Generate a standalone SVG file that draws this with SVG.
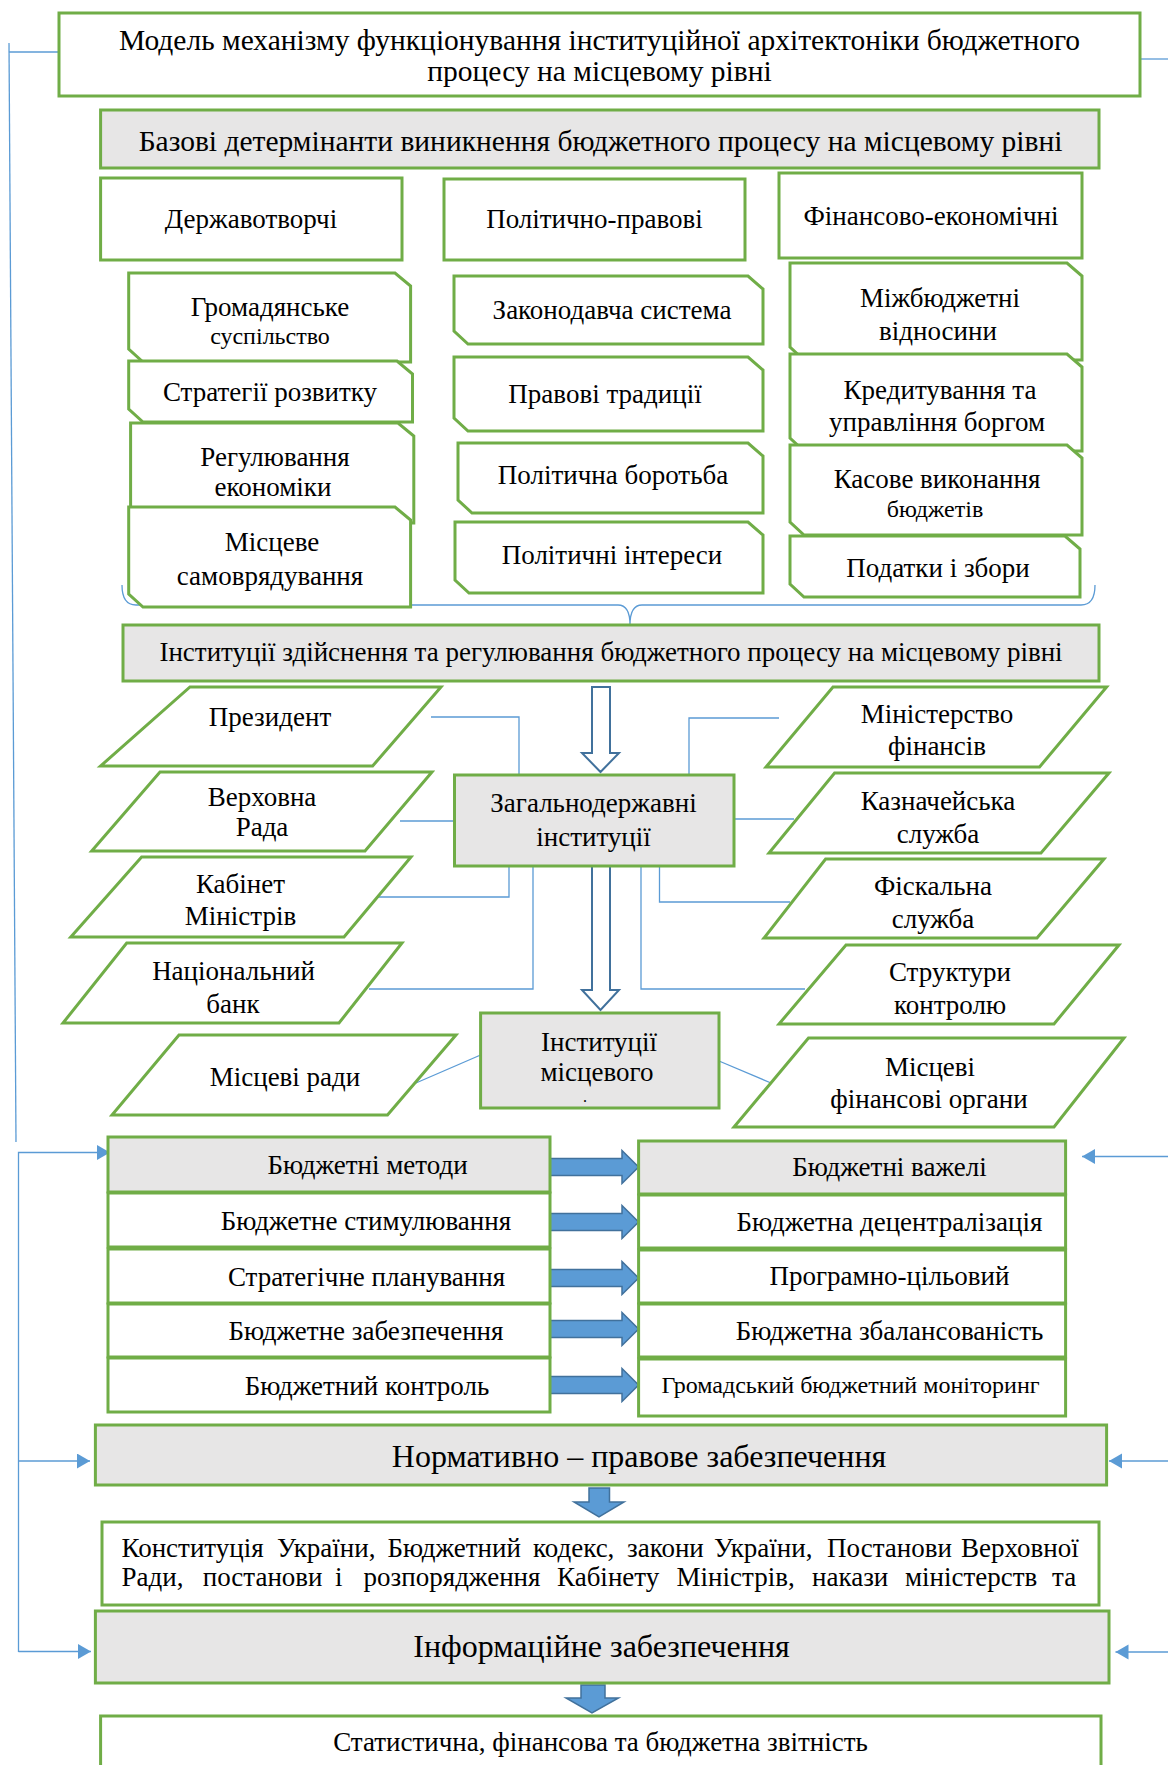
<svg xmlns="http://www.w3.org/2000/svg" width="1168" height="1765" viewBox="0 0 1168 1765">
<style>
.w{fill:#fff;stroke:#70ad47;stroke-width:3}
.gr{fill:#e7e6e6;stroke:#70ad47;stroke-width:3}
.t{font-family:"Liberation Serif","Times New Roman",serif;font-size:27px;fill:#000;text-anchor:middle}
.s{font-size:24px}
.m{font-size:24px}
.h{font-size:29.5px}
.b{font-size:32px}
.d{font-size:16px}
.c{fill:none;stroke:#5b9bd5;stroke-width:1.3}
.ha{fill:#fff;stroke:#41719c;stroke-width:2}
.ba{fill:#5b9bd5;stroke:#41719c;stroke-width:1.5}
.l{text-anchor:start}
</style>
<defs>
<marker id="ah" markerUnits="userSpaceOnUse" markerWidth="14" markerHeight="16" refX="13" refY="7.5" orient="auto">
<path d="M0,0 L13,7.5 L0,15 Z" fill="#5b9bd5"/>
</marker>
</defs>
<rect width="1168" height="1765" fill="#fff"/>

<g id="connectors">
<line class="c" x1="9" y1="43" x2="16" y2="1142"/>
<line class="c" x1="9" y1="52" x2="59" y2="52"/>
<line class="c" x1="1140" y1="59" x2="1168" y2="59"/>
<polyline class="c" points="18.5,1652 18.5,1152.5 110,1152.5" marker-end="url(#ah)"/>
<line class="c" x1="18.5" y1="1461" x2="90" y2="1461" marker-end="url(#ah)"/>
<line class="c" x1="18.5" y1="1651.5" x2="91" y2="1651.5" marker-end="url(#ah)"/>
<line class="c" x1="1168" y1="1156.5" x2="1082" y2="1156.5" marker-end="url(#ah)"/>
<line class="c" x1="1168" y1="1461" x2="1109" y2="1461" marker-end="url(#ah)"/>
<line class="c" x1="1168" y1="1652" x2="1115.5" y2="1652" marker-end="url(#ah)"/>
<path class="c" d="M122 585 Q122 605 136 605 H618 Q630 605 630 625 Q630 605 642 605 H1081 Q1095 605 1095 585"/>
<polyline class="c" points="431,717 519,717 519,774"/>
<line class="c" x1="400" y1="821" x2="454" y2="821"/>
<polyline class="c" points="376,897 509,897 509,866"/>
<polyline class="c" points="369,989 533,989 533,866"/>
<polyline class="c" points="779,718 689,718 689,774"/>
<line class="c" x1="734" y1="819" x2="794" y2="819"/>
<polyline class="c" points="790,902 659.5,902 659.5,866"/>
<polyline class="c" points="805,989 641,989 641,866"/>
<line class="c" x1="413.6" y1="1084" x2="480.6" y2="1055"/>
<line class="c" x1="719" y1="1061" x2="771" y2="1083"/>
<path class="ha" d="M592 687 H610 V753 H619 L600.5 772 L582 753 H592 Z"/>
<path class="ha" d="M592 866 H610 V990 H619 L600.5 1010 L582 990 H592 Z"/>
<path class="ba" d="M550 1158.5 H622 V1150.5 L638.6 1167 L622 1183.5 V1175.5 H550 Z"/>
<path class="ba" d="M550 1213.5 H622 V1205.5 L638.6 1222 L622 1238.5 V1230.5 H550 Z"/>
<path class="ba" d="M550 1269.5 H622 V1261.5 L638.6 1278 L622 1294.5 V1286.5 H550 Z"/>
<path class="ba" d="M550 1320.5 H622 V1312.5 L638.6 1329 L622 1345.5 V1337.5 H550 Z"/>
<path class="ba" d="M550 1376.5 H622 V1368.5 L638.6 1385 L622 1401.5 V1393.5 H550 Z"/>
<path class="ba" d="M589 1488 H609.5 V1502 H624 L599 1517 L574 1502 H589 Z"/>
<path class="ba" d="M581 1685 H605 V1698 H618.5 L592 1713 L566 1698 H581 Z"/>
</g>

<g id="title">
<rect class="w" x="59" y="13" width="1081" height="83"/>
<text class="t h" x="599.5" y="49.5">Модель механізму функціонування інституційної архітектоніки бюджетного</text>
<text class="t h" x="599.5" y="81">процесу на місцевому рівні</text>
</g>

<g id="base">
<rect class="gr" x="100.6" y="110" width="998.4" height="58"/>
<text class="t h" x="600.5" y="151">Базові детермінанти виникнення бюджетного процесу на місцевому рівні</text>
</g>

<g id="cat1">
<rect class="w" x="100.6" y="178" width="301.4" height="82"/>
<text class="t" x="251" y="228">Державотворчі</text>
</g>
<g id="cat2">
<rect class="w" x="444" y="179" width="301" height="81"/>
<text class="t" x="594.5" y="228">Політично-правові</text>
</g>
<g id="cat3">
<rect class="w" x="779" y="173" width="303" height="85"/>
<text class="t" x="931" y="225">Фінансово-економічні</text>
</g>

<g id="l1">
<path class="w" d="M128.7 273 H395 L410.6 286 V362 H143 L128.7 349 Z"/>
<text class="t" x="270" y="316">Громадянське</text>
<text class="t s" x="270" y="344">суспільство</text>
</g>
<g id="l2">
<path class="w" d="M128.7 361 H397 L412.5 374 V422 H143 L128.7 409 Z"/>
<text class="t" x="270" y="401">Стратегії розвитку</text>
</g>
<g id="l3">
<path class="w" d="M130.6 423 H398 L413.8 436 V523 H145 L130.6 510 Z"/>
<text class="t" x="275" y="466">Регулювання</text>
<text class="t" x="273" y="496">економіки</text>
</g>
<g id="l4">
<path class="w" d="M128.7 507 H395 L410.6 520 V607 H143 L128.7 594 Z"/>
<text class="t" x="272" y="551">Місцеве</text>
<text class="t" x="270" y="585">самоврядування</text>
</g>

<g id="m1">
<path class="w" d="M454 276 H748 L763 289 V344 H468 L454 331 Z"/>
<text class="t" x="612" y="319">Законодавча система</text>
</g>
<g id="m2">
<path class="w" d="M454 357 H748 L763 370 V431 H468 L454 418 Z"/>
<text class="t" x="605" y="403">Правові традиції</text>
</g>
<g id="m3">
<path class="w" d="M458 443 H748 L763 456 V513 H472 L458 500 Z"/>
<text class="t" x="613" y="484">Політична боротьба</text>
</g>
<g id="m4">
<path class="w" d="M455 522 H748 L763 535 V593 H469 L455 580 Z"/>
<text class="t" x="612" y="564">Політичні інтереси</text>
</g>

<g id="r1">
<path class="w" d="M790 263 H1067 L1082 276 V360 H804 L790 347 Z"/>
<text class="t" x="940" y="307">Міжбюджетні</text>
<text class="t" x="938" y="340">відносини</text>
</g>
<g id="r2">
<path class="w" d="M790 354 H1067 L1082 367 V451 H804 L790 438 Z"/>
<text class="t" x="940" y="399">Кредитування та</text>
<text class="t" x="937" y="431">управління боргом</text>
</g>
<g id="r3">
<path class="w" d="M790 445 H1067 L1082 458 V535 H804 L790 522 Z"/>
<text class="t" x="937" y="488">Касове виконання</text>
<text class="t s" x="935" y="517">бюджетів</text>
</g>
<g id="r4">
<path class="w" d="M790 536 H1065 L1080 549 V597 H804 L790 584 Z"/>
<text class="t" x="938" y="577">Податки і збори</text>
</g>

<g id="inst">
<rect class="gr" x="123" y="625" width="976" height="56"/>
<text class="t" x="611" y="661">Інституції здійснення та регулювання бюджетного процесу на місцевому рівні</text>
</g>

<g id="p1">
<polygon class="w" points="190,687 441,687 372.6,766 100.6,766"/>
<text class="t" x="270" y="726">Президент</text>
</g>
<g id="p2">
<polygon class="w" points="160,772 432,772 365,851 91.7,851"/>
<text class="t" x="262" y="806">Верховна</text>
<text class="t" x="262" y="836">Рада</text>
</g>
<g id="p3">
<polygon class="w" points="141.6,857 411,857 344,937 70.8,937"/>
<text class="t" x="240.5" y="893">Кабінет</text>
<text class="t" x="240.5" y="925">Міністрів</text>
</g>
<g id="p4">
<polygon class="w" points="126.7,943 402,943 339,1023 63,1023"/>
<text class="t" x="233.5" y="980">Національний</text>
<text class="t" x="233" y="1013">банк</text>
</g>
<g id="p5">
<polygon class="w" points="179,1035 456,1035 387.5,1115 112,1115"/>
<text class="t" x="285" y="1086">Місцеві ради</text>
</g>
<g id="q1">
<polygon class="w" points="833,687 1106.6,687 1039.5,767 766,767"/>
<text class="t" x="937" y="723">Міністерство</text>
<text class="t" x="937" y="755">фінансів</text>
</g>
<g id="q2">
<polygon class="w" points="834.6,773 1109,773 1041,853 769,853"/>
<text class="t" x="938" y="810">Казначейська</text>
<text class="t" x="938" y="843">служба</text>
</g>
<g id="q3">
<polygon class="w" points="825.6,859 1104,859 1037,938 764,938"/>
<text class="t" x="933" y="895">Фіскальна</text>
<text class="t" x="933" y="928">служба</text>
</g>
<g id="q4">
<polygon class="w" points="846,945 1119,945 1054,1024 779,1024"/>
<text class="t" x="950" y="981">Структури</text>
<text class="t" x="950" y="1014">контролю</text>
</g>
<g id="q5">
<polygon class="w" points="808.5,1038 1124,1038 1054,1127 734,1127"/>
<text class="t" x="930" y="1076">Місцеві</text>
<text class="t" x="929" y="1108">фінансові  органи</text>
</g>

<g id="gov">
<rect class="gr" x="454.5" y="775" width="279.5" height="91"/>
<text class="t" x="593.5" y="812">Загальнодержавні</text>
<text class="t" x="593.5" y="846">інституції</text>
</g>
<g id="local">
<rect class="gr" x="480.6" y="1013" width="238.4" height="95"/>
<text class="t" x="599" y="1051">Інституції</text>
<text class="t" x="597" y="1081">місцевого</text>
<text class="t d" x="585" y="1102">.</text>
</g>

<g id="meth0">
<rect class="gr" x="108" y="1137" width="442" height="55"/>
<text class="t" x="367.5" y="1174">Бюджетні методи</text>
</g>
<g id="meth1">
<rect class="w" x="108" y="1193" width="442" height="54"/>
<text class="t" x="366" y="1230">Бюджетне стимулювання</text>
</g>
<g id="meth2">
<rect class="w" x="108" y="1249" width="442" height="54"/>
<text class="t" x="366.5" y="1286">Стратегічне планування</text>
</g>
<g id="meth3">
<rect class="w" x="108" y="1304" width="442" height="53"/>
<text class="t" x="366" y="1340">Бюджетне забезпечення</text>
</g>
<g id="meth4">
<rect class="w" x="108" y="1358" width="442" height="54"/>
<text class="t" x="367" y="1395">Бюджетний контроль</text>
</g>

<g id="lev0">
<rect class="gr" x="638.6" y="1141" width="427" height="53"/>
<text class="t" x="889.5" y="1176">Бюджетні важелі</text>
</g>
<g id="lev1">
<rect class="w" x="638.6" y="1195" width="427" height="53"/>
<text class="t" x="889.5" y="1231">Бюджетна децентралізація</text>
</g>
<g id="lev2">
<rect class="w" x="638.6" y="1250" width="427" height="53"/>
<text class="t" x="889.5" y="1285">Програмно-цільовий</text>
</g>
<g id="lev3">
<rect class="w" x="638.6" y="1304" width="427" height="53"/>
<text class="t" x="889.5" y="1340">Бюджетна збалансованість</text>
</g>
<g id="lev4">
<rect class="w" x="638.6" y="1359" width="427" height="57"/>
<text class="t m" x="850.5" y="1393">Громадський бюджетний моніторинг</text>
</g>

<g id="norm">
<rect class="gr" x="95.4" y="1425" width="1011.2" height="60"/>
<text class="t b" x="639" y="1467">Нормативно – правове забезпечення</text>
</g>
<g id="law">
<rect class="w" x="102" y="1522" width="997" height="83"/>
<text class="t l" y="1557"><tspan x="121.5">Конституція</tspan><tspan x="277">України,</tspan><tspan x="387.5">Бюджетний</tspan><tspan x="533">кодекс,</tspan><tspan x="627">закони</tspan><tspan x="714">України,</tspan><tspan x="827">Постанови</tspan><tspan x="961">Верховної</tspan></text>
<text class="t l" y="1586"><tspan x="121.5">Ради,</tspan><tspan x="202.7">постанови</tspan><tspan x="335">і</tspan><tspan x="363.6">розпорядження</tspan><tspan x="557">Кабінету</tspan><tspan x="676.6">Міністрів,</tspan><tspan x="812">накази</tspan><tspan x="905">міністерств</tspan><tspan x="1052">та</tspan></text>
</g>
<g id="info">
<rect class="gr" x="95.4" y="1611" width="1013.6" height="72"/>
<text class="t b" x="601.5" y="1657">Інформаційне забезпечення</text>
</g>
<g id="stat">
<rect class="w" x="100.6" y="1716" width="1000.4" height="60"/>
<text class="t" x="600.5" y="1751">Статистична, фінансова та бюджетна звітність</text>
</g>
</svg>
